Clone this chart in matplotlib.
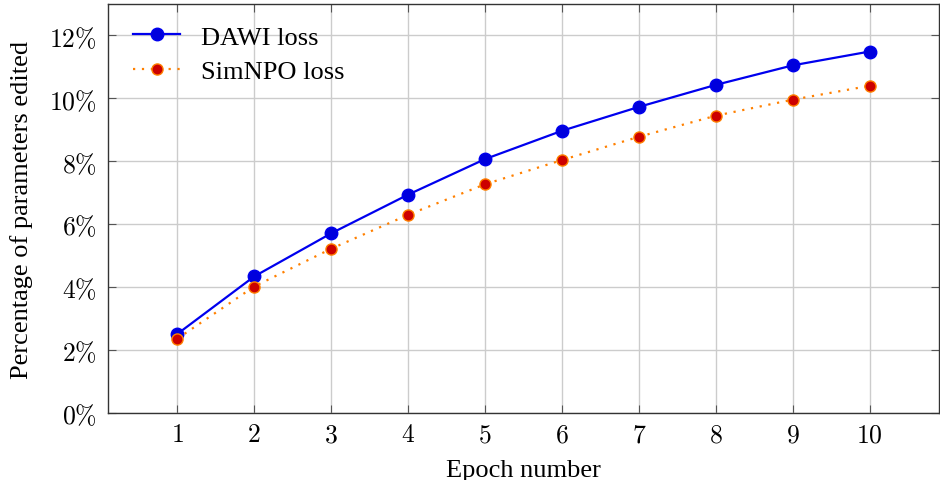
import matplotlib
matplotlib.use('Agg')
import matplotlib.pyplot as plt
from matplotlib.ticker import FuncFormatter

plt.rcParams['font.family'] = ['Liberation Serif', 'DejaVu Serif']
plt.rcParams['mathtext.fontset'] = 'cm'

epochs = [1, 2, 3, 4, 5, 6, 7, 8, 9, 10]
dawi = [2.51, 4.34, 5.71, 6.94, 8.07, 8.97, 9.73, 10.43, 11.05, 11.49]
simnpo = [2.36, 4.02, 5.22, 6.30, 7.27, 8.04, 8.78, 9.45, 9.96, 10.40]
yticks = [0, 2, 4, 6, 8, 10, 12]

fig = plt.figure(figsize=(9.4, 4.81), dpi=100)
ax = fig.add_axes([108/940, 1 - 414/481, 831/940, 409/481])

ax.plot(epochs, dawi, color='#0000ee', lw=1.6, marker='o', ms=9,
        mfc='#0000dd', mec='#0000ee', label='DAWI loss', zorder=3)
ax.plot(epochs, simnpo, color='#ff8000', lw=1.6, ls=(0, (1, 3)), marker='o', ms=8,
        mfc='#cc0000', mec='#ff8000', mew=1.0, label='SimNPO loss', zorder=3)

ax.set_xlim(0.1, 10.9)
ax.set_ylim(0, 13)
ax.set_xticks(epochs)
ax.set_yticks(yticks)
ax.xaxis.set_major_formatter(FuncFormatter(lambda v, p: r'$%d$' % v))
ax.yaxis.set_major_formatter(FuncFormatter(lambda v, p: r'$%d\%%$' % v))
ax.tick_params(direction='in', length=6, width=0.8, color='#555555',
               labelsize=18.5, top=True, right=True, pad=8)
ax.grid(True, color='#cccccc', lw=1.0)
ax.set_axisbelow(True)
for s in ax.spines.values():
    s.set_color('#333333')
    s.set_linewidth(1.0)

ax.set_xlabel('Epoch number', fontsize=19, labelpad=9)
ax.set_ylabel('Percentage of parameters edited', fontsize=19, labelpad=12)

leg = ax.legend(loc='upper left', bbox_to_anchor=(0.01, 0.99), fontsize=19,
                frameon=False, handlelength=1.75, borderaxespad=0.25,
                labelspacing=0.4, handletextpad=0.8)

fig.savefig('out.png', dpi=100)
